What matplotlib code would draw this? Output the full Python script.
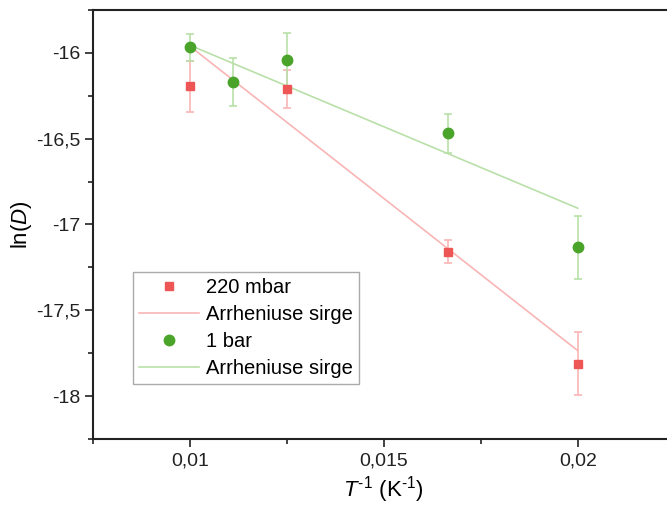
import matplotlib.pyplot as plt
from matplotlib.ticker import FuncFormatter, MultipleLocator

plt.rcParams['font.family'] = ['Liberation Sans', 'DejaVu Sans']
plt.rcParams['mathtext.fontset'] = 'custom'
plt.rcParams['mathtext.rm'] = 'Liberation Sans'
plt.rcParams['mathtext.it'] = 'Liberation Sans:italic'

# inverse temperature (1/K)
t_inv = [0.01, 1 / 90, 0.0125, 1 / 60, 0.02]

# 220 mbar series (no point at 1/90)
x_220 = [0.01, 0.0125, 1 / 60, 0.02]
y_220 = [-16.195, -16.21, -17.158, -17.811]
err_220 = [0.15, 0.113, 0.067, 0.183]

# 1 bar series
y_1bar = [-15.967, -16.167, -16.04, -16.469, -17.134]
err_1bar = [0.08, 0.14, 0.155, 0.115, 0.185]

# Arrhenius fit lines (end points)
fit_x = [0.01, 0.02]
fit_220 = [-15.96, -17.735]
fit_1bar = [-15.955, -16.905]

red = '#ee5555'
red_light = '#f9b5b5'
green = '#4ba42a'
green_light = '#b9e0a8'

fig = plt.figure(figsize=(6.67, 5.05), dpi=100)
ax = fig.add_axes([0.139, 0.1307, 0.8726, 0.8495])

ax.errorbar(x_220, y_220, yerr=err_220, fmt='none', ecolor=red_light,
            elinewidth=1.2, capsize=3, capthick=1.2, zorder=2)
ax.errorbar(t_inv, y_1bar, yerr=err_1bar, fmt='none', ecolor=green_light,
            elinewidth=1.2, capsize=3, capthick=1.2, zorder=2)

p1, = ax.plot(x_220, y_220, 's', color=red, ms=6, ls='none', zorder=4,
              label='220 mbar')
l1, = ax.plot(fit_x, fit_220, '-', color=red_light, lw=1.2, zorder=3,
              label='Arrheniuse sirge')
p2, = ax.plot(t_inv, y_1bar, 'o', color=green, ms=7.5, ls='none', zorder=4,
              label='1 bar')
l2, = ax.plot(fit_x, fit_1bar, '-', color=green_light, lw=1.2, zorder=3,
              label='Arrheniuse sirge')

ax.set_xlim(0.0075, 0.0225)
ax.set_ylim(-18.25, -15.75)

ax.xaxis.set_major_locator(MultipleLocator(0.005))
ax.xaxis.set_minor_locator(MultipleLocator(0.0025))
ax.yaxis.set_major_locator(MultipleLocator(0.5))
ax.yaxis.set_minor_locator(MultipleLocator(0.25))

comma = FuncFormatter(lambda v, pos: ('%g' % round(v, 6)).replace('.', ','))
ax.xaxis.set_major_formatter(comma)
ax.yaxis.set_major_formatter(comma)

ax.tick_params(which='both', direction='out', top=False, right=False,
               width=1.2, colors='#222222', labelsize=14)
ax.tick_params(which='major', length=6)
ax.tick_params(which='minor', length=3.5)
ax.tick_params(axis='x', pad=4)
ax.tick_params(axis='y', pad=3)
for s in ax.spines.values():
    s.set_linewidth(1.5)
    s.set_color('#222222')

ax.set_xlabel('$T^{\u20101}$ (K$^{\u20101}$)', fontsize=16, labelpad=3)
ax.set_ylabel(r'ln($D$)', fontsize=16, labelpad=1)

leg = ax.legend(handles=[p1, l1, p2, l2], loc='upper left',
                bbox_to_anchor=(0.069, 0.389), borderaxespad=0,
                fontsize=14.5, fancybox=False, framealpha=1,
                edgecolor='#aaaaaa', handlelength=3.0, handletextpad=0.35,
                labelspacing=0.4, borderpad=0.3)
leg.get_frame().set_linewidth(1.0)

fig.savefig('out.png', dpi=100)
